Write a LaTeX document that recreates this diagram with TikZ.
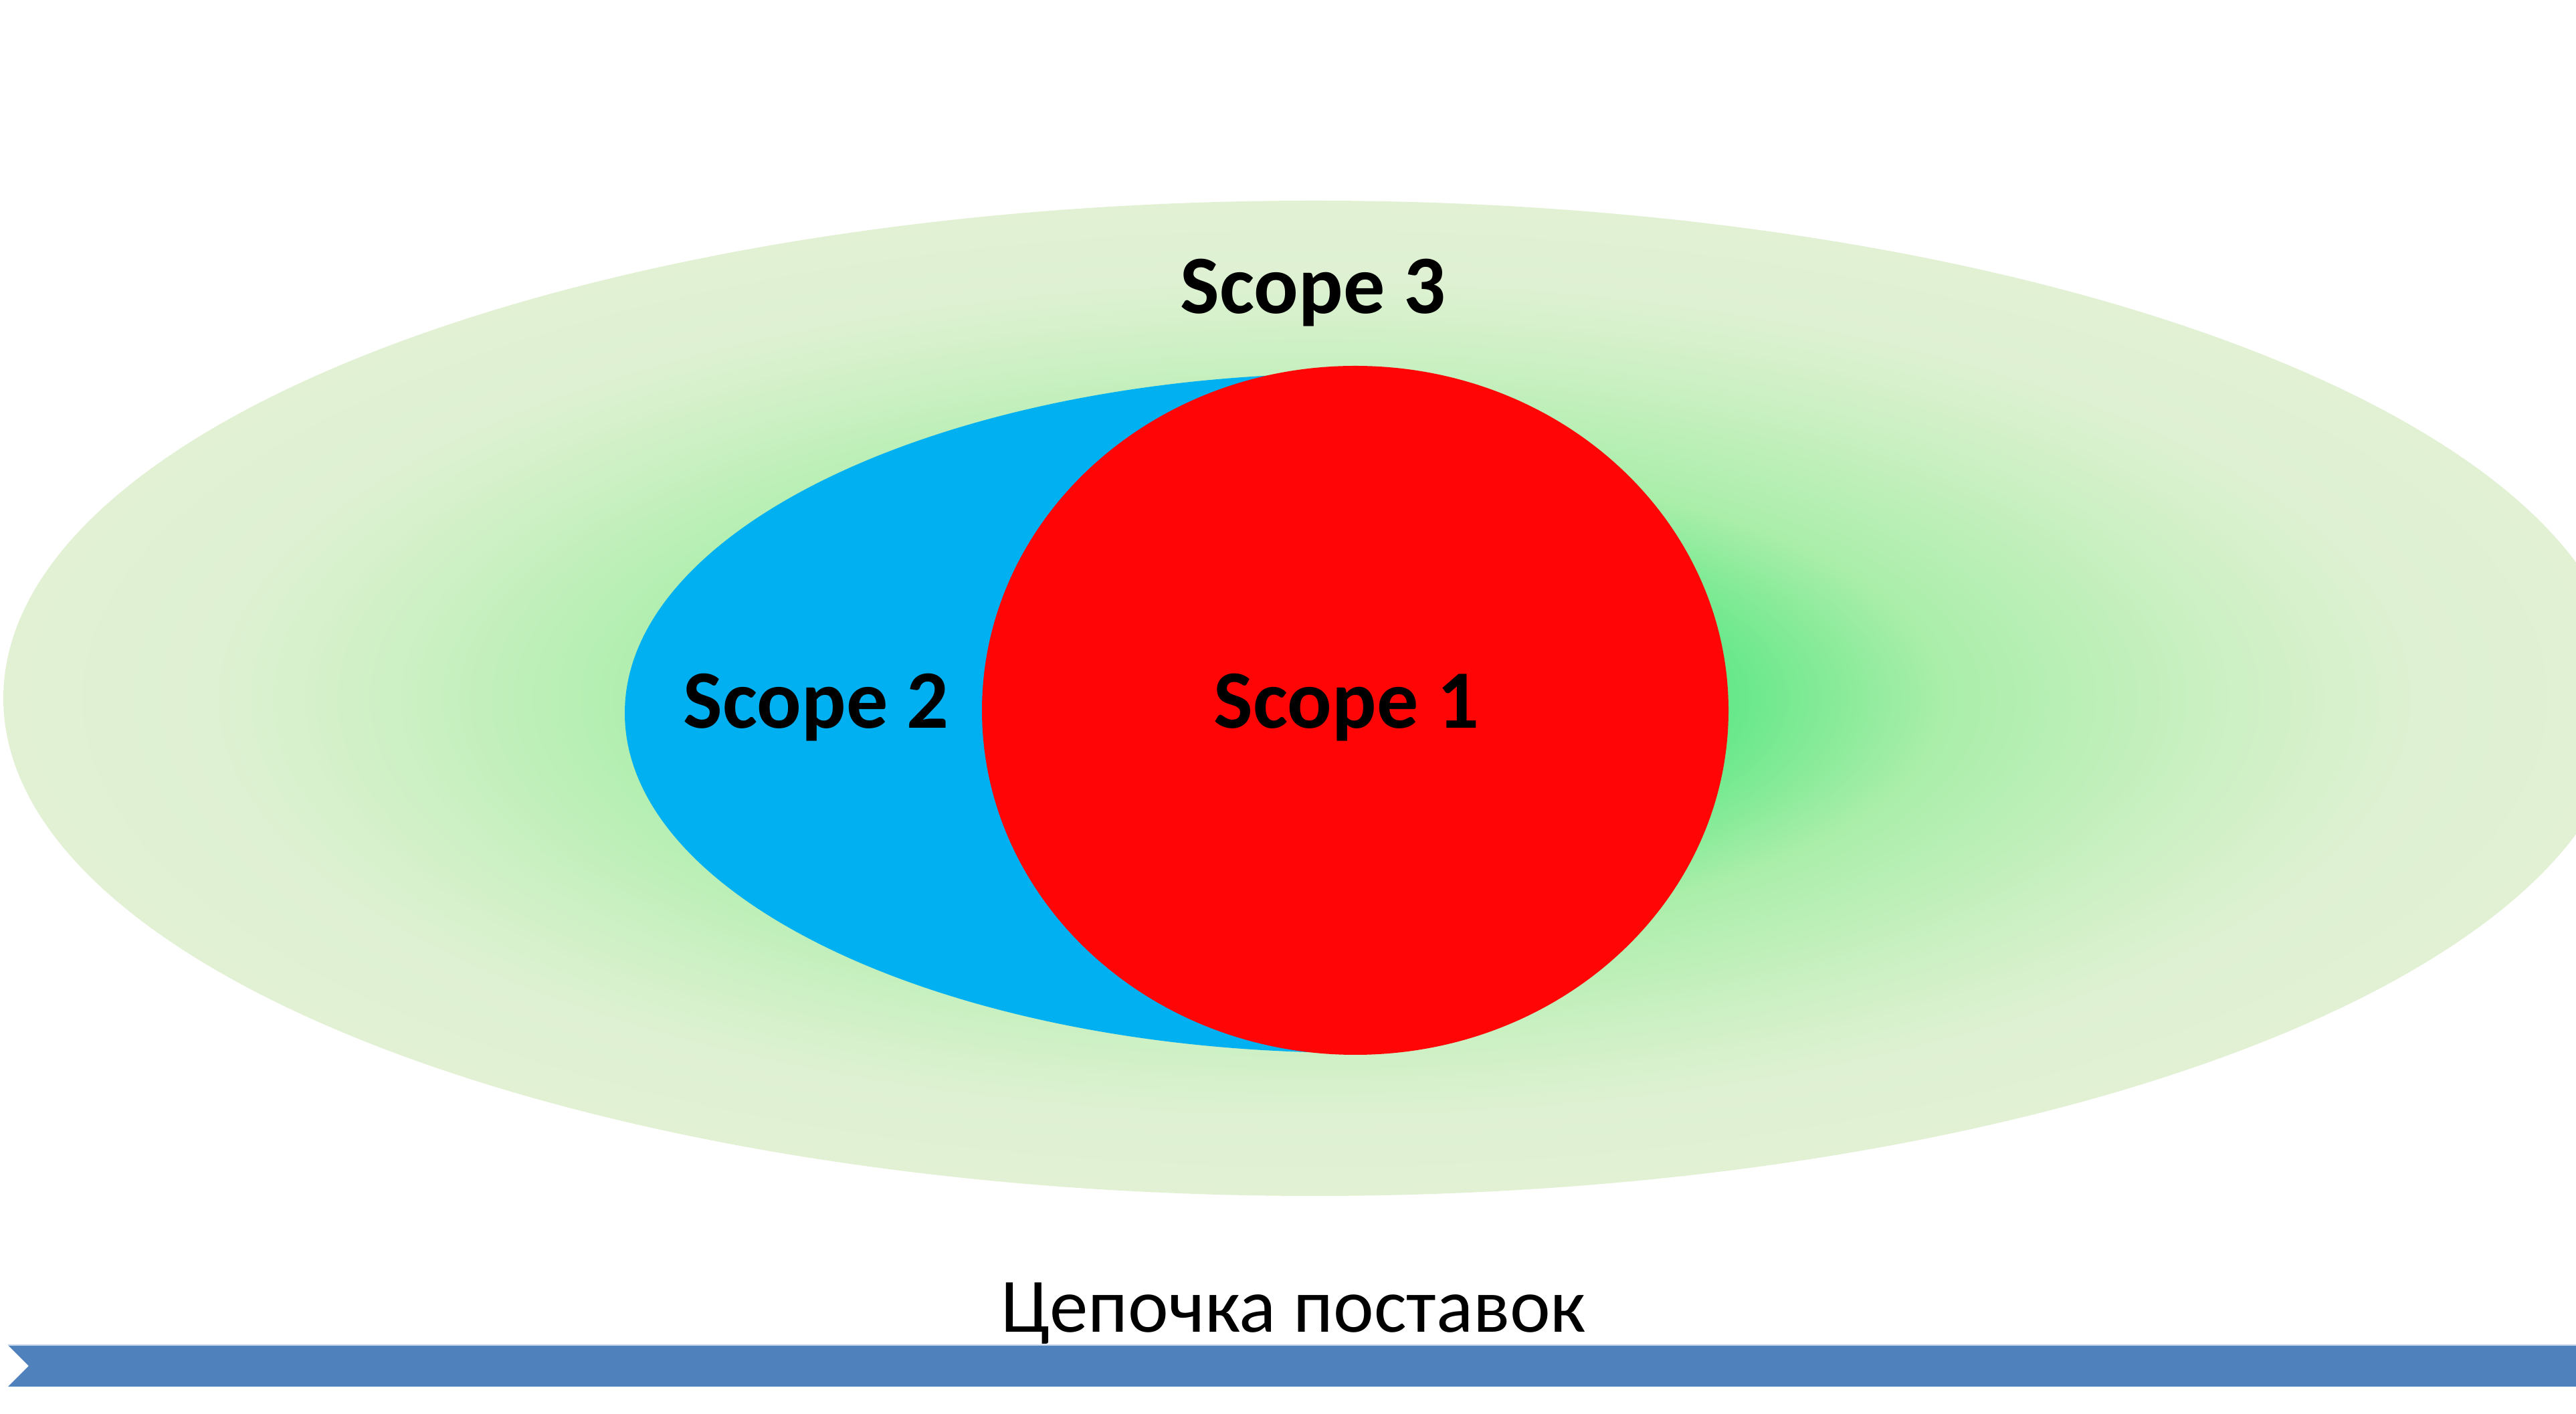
\documentclass[tikz,border=0pt]{standalone}
\usepackage{fontspec}
\setmainfont{Carlito}
\definecolor{scopered}{RGB}{255,5,5}
\definecolor{scopeblue}{RGB}{0,176,240}
\definecolor{chainblue}{RGB}{79,129,189}
\pgfdeclareradialshading{scopethree}{\pgfpoint{0bp}{0bp}}{%
  color(0bp)=(rgb,255:red,88;green,229;blue,124);
  color(8bp)=(rgb,255:red,104;green,232;blue,138);
  color(12bp)=(rgb,255:red,170;green,238;blue,170);
  color(17.5bp)=(rgb,255:red,205;green,240;blue,196);
  color(21bp)=(rgb,255:red,222;green,241;blue,210);
  color(25bp)=(rgb,255:red,226;green,241;blue,212);
  color(50bp)=(rgb,255:red,226;green,241;blue,212)}
\tikzset{scopelabel/.style={font=\bfseries\fontsize{35.3}{40}\selectfont,anchor=base}}
\begin{document}
\begin{tikzpicture}

\useasboundingbox (0,0) rectangle (38.51,21.13); % Page
%
\shade[shading=scopethree] (19.65,10.69) ellipse [x radius=19.6, y radius=7.44]; % Scope 3 - outer field

\fill[scopeblue] (20.26,15.55) arc [start angle=90, end angle=270, x radius=10.92, y radius=5.08] -- cycle; % Scope 2 - left half
\fill[scopered] (20.26,10.51) ellipse [x radius=5.58, y radius=5.15]; % Scope 1

\node[scopelabel] (scope3) at (19.63,16.44) {Scope 3};
\node[scopelabel] (scope2) at (12.20,10.24) {Scope 2};
\node[scopelabel] (scope1) at (20.13,10.24) {Scope 1};

\fill[chainblue] (0.12,1.02) -- (38.51,1.02) -- (38.51,0.40) -- (0.12,0.40) -- (0.43,0.71) -- cycle; % Supply chain band
\draw[chainblue!35,line width=0.6pt] (0.12,1.02) -- (38.51,1.02); % Band top edge
\node[font=\fontsize{32.7}{38}\selectfont,anchor=base] (chain) at (19.34,1.21) {Цепочка поставок};

\end{tikzpicture}
\end{document}
